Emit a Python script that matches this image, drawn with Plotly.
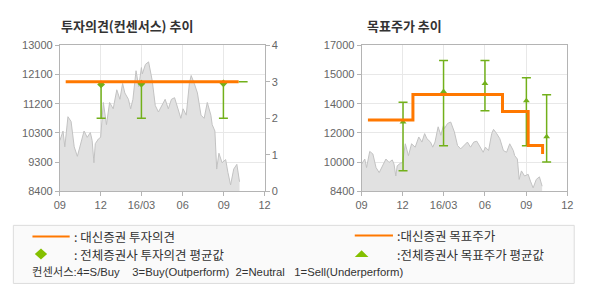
import plotly.graph_objects as go

# ---- data ----
price_dates = ["2015-09-01","2015-09-08","2015-09-12","2015-09-19","2015-09-26","2015-10-03","2015-10-10",
    "2015-10-17","2015-10-25","2015-11-01","2015-11-08","2015-11-12","2015-11-16","2015-11-19","2015-11-26",
    "2015-12-01","2015-12-05","2015-12-07","2015-12-14","2015-12-21","2015-12-29","2016-01-06","2016-01-13",
    "2016-01-19","2016-01-24","2016-02-01","2016-02-06","2016-02-11","2016-02-18","2016-02-24","2016-03-01",
    "2016-03-03","2016-03-10","2016-03-17","2016-03-25","2016-04-01","2016-04-08","2016-04-16","2016-04-23",
    "2016-04-30","2016-05-07","2016-05-14","2016-05-22","2016-05-28","2016-06-02","2016-06-09","2016-06-16",
    "2016-06-20","2016-06-27","2016-07-04","2016-07-12","2016-07-19","2016-07-26","2016-08-03","2016-08-06",
    "2016-08-12","2016-08-16","2016-08-21","2016-08-28","2016-09-05","2016-09-10","2016-09-16","2016-09-23",
    "2016-09-30","2016-10-06"]
price_values = [10000,10300,9800,10750,10600,9800,9500,
    9900,10300,10100,10250,10000,9300,9900,10050,
    10100,10900,11200,10500,11200,11000,11600,11300,
    11800,11500,11300,11000,11300,12200,11700,12300,
    12100,12400,12480,11900,11100,10900,11100,11300,
    11000,11300,11350,11000,10700,11000,10800,11800,
    12050,11800,11500,10800,10700,11200,10800,10500,
    10300,9100,9600,9300,9400,9000,8600,9100,
    9250,8700]

# 투자의견 (Daishin) and consensus
opinion_dates = ["2015-09-14", "2016-10-04"]
opinion_values = [3, 3]
cons_op_dates = ["2015-12-02", "2016-03-01", "2016-08-31"]
cons_op_mean = [2.93, 2.95, 2.96]
cons_op_max = [3, 3, 3]
cons_op_min = [2, 2, 2]
cons_op_last_date = ["2016-10-14"]
cons_op_last_val = [3]

# 목표주가 (Daishin) and consensus
target_dates = ["2015-09-15", "2015-12-24", "2016-07-10", "2016-09-05", "2016-10-07"]
target_values = [12600, 14100, 13100, 11100, 10600]
cons_tp_dates = ["2015-12-02", "2016-03-01", "2016-06-01", "2016-09-01", "2016-10-16"]
cons_tp_mean = [12480, 14280, 14750, 13730, 11610]
cons_tp_max = [13650, 16110, 16110, 15090, 14090]
cons_tp_min = [9610, 11080, 13140, 11080, 10120]

x_tickvals = ["2015-09-01", "2015-12-01", "2016-03-01", "2016-06-01", "2016-09-01", "2016-12-01"]
x_ticktext = ["09", "12", "16/03", "06", "09", "12"]
y1_tickvals = [8400, 9320, 10240, 11160, 12080, 13000]
y1_ticktext = ["8400", "9300", "10300", "11200", "12100", "13000"]
y2_tickvals = [0, 1, 2, 3, 4]
y3_tickvals = [8400, 10120, 11840, 13560, 15280, 17000]
y3_ticktext = ["8400", "10000", "12000", "14000", "15000", "17000"]

ORANGE = "#ff7800"
GREEN = "#72b01a"
W, H = 590, 300

def px(x): return x / W
def py(y): return 1 - y / H

fig = go.Figure()

area = dict(mode="lines", line=dict(color="#c2c2c2", width=1), fill="tozeroy",
            fillcolor="#e1e1e1", hoverinfo="skip", showlegend=False)
fig.add_trace(go.Scatter(x=price_dates, y=price_values, xaxis="x", yaxis="y", **area))
fig.add_trace(go.Scatter(x=price_dates, y=price_values, xaxis="x2", yaxis="y3", **area))

# left: consensus opinion bars
fig.add_trace(go.Scatter(
    x=cons_op_dates, y=cons_op_mean, xaxis="x", yaxis="y2", mode="markers",
    marker=dict(symbol="diamond", size=6, color=GREEN),
    error_y=dict(type="data", symmetric=False,
                 array=[a - m for a, m in zip(cons_op_max, cons_op_mean)],
                 arrayminus=[m - b for m, b in zip(cons_op_mean, cons_op_min)],
                 color=GREEN, thickness=1.5, width=4.5),
    showlegend=False))
fig.add_trace(go.Scatter(
    x=cons_op_last_date, y=cons_op_last_val, xaxis="x", yaxis="y2", mode="markers",
    marker=dict(size=1, color="rgba(0,0,0,0)"),
    error_y=dict(type="data", array=[0], color=GREEN, thickness=1.5, width=4.5),
    showlegend=False))
fig.add_trace(go.Scatter(x=opinion_dates, y=opinion_values, xaxis="x", yaxis="y2", mode="lines",
                         line=dict(color=ORANGE, width=3), showlegend=False))

# right: consensus target bars then Daishin target
fig.add_trace(go.Scatter(
    x=cons_tp_dates, y=cons_tp_mean, xaxis="x2", yaxis="y3", mode="markers",
    marker=dict(symbol="triangle-up", size=6, color=GREEN),
    error_y=dict(type="data", symmetric=False,
                 array=[a - m for a, m in zip(cons_tp_max, cons_tp_mean)],
                 arrayminus=[m - b for m, b in zip(cons_tp_mean, cons_tp_min)],
                 color=GREEN, thickness=1.5, width=4.5),
    showlegend=False))
fig.add_trace(go.Scatter(x=target_dates, y=target_values, xaxis="x2", yaxis="y3", mode="lines",
                         line=dict(color=ORANGE, width=3, shape="hv"), showlegend=False))

tickfont = dict(family="Liberation Sans, Arial, sans-serif", size=11, color="#666666")
xcommon = dict(type="date", range=["2015-09-01", "2016-12-01"], tickvals=x_tickvals, ticktext=x_ticktext,
               showgrid=True, gridcolor="#e8e8e8", showline=True, linecolor="#b4b4b4", linewidth=1,
               mirror=True, ticks="outside", ticklen=4, tickcolor="#b4b4b4", tickfont=tickfont, zeroline=False)
ycommon = dict(showgrid=True, gridcolor="#e8e8e8", showline=True, linecolor="#b4b4b4", linewidth=1,
               mirror=True, ticks="outside", ticklen=4, tickcolor="#b4b4b4", tickfont=tickfont, zeroline=False)

ydom = [py(193), py(41)]
fig.update_layout(
    width=W, height=H, margin=dict(l=0, r=0, t=0, b=0),
    paper_bgcolor="white", plot_bgcolor="white", showlegend=False,
    xaxis=dict(domain=[px(55), px(264)], anchor="y", **xcommon),
    yaxis=dict(domain=ydom, anchor="x", range=[8400, 13000], tickvals=y1_tickvals, ticktext=y1_ticktext, **ycommon),
    yaxis2=dict(overlaying="y", side="right", anchor="x", range=[0, 4], tickvals=y2_tickvals,
                showgrid=False, showline=False, ticks="outside", ticklen=4, tickcolor="#b4b4b4",
                tickfont=tickfont, zeroline=False),
    xaxis2=dict(domain=[px(363), px(573)], anchor="y3", **xcommon),
    yaxis3=dict(domain=ydom, anchor="x2", range=[8400, 17000], tickvals=y3_tickvals, ticktext=y3_ticktext, **ycommon),
)

titlefont = dict(family="Noto Sans CJK KR", size=13, color="#333333")
fig.add_annotation(x=px(54), y=py(20), xref="paper", yref="paper", xanchor="left", yanchor="middle",
                   text="<b>투자의견(컨센서스) 추이</b>", showarrow=False, font=titlefont)
fig.add_annotation(x=px(366), y=py(20), xref="paper", yref="paper", xanchor="left", yanchor="middle",
                   text="<b>목표주가 추이</b>", showarrow=False, font=titlefont)

# legend box
fig.add_shape(type="rect", xref="paper", yref="paper", x0=px(7.5), x1=px(580), y0=py(289), y1=py(228.5),
              line=dict(color="#dcdcdc", width=1), fillcolor="#fafafa", layer="below")
fig.add_shape(type="line", xref="paper", yref="paper", x0=px(27), x1=px(65), y0=py(240), y1=py(240),
              line=dict(color=ORANGE, width=2))
fig.add_shape(type="line", xref="paper", yref="paper", x0=px(356), x1=px(395), y0=py(239), y1=py(239),
              line=dict(color=ORANGE, width=2))
fig.add_shape(type="path", xref="paper", yref="paper",
              path=f"M {px(35.7)},{py(252.5)} L {px(42)},{py(258.3)} L {px(35.7)},{py(264)} L {px(29.4)},{py(258.3)} Z",
              fillcolor="#84c000", line=dict(width=0))
fig.add_shape(type="path", xref="paper", yref="paper",
              path=f"M {px(363)},{py(254.5)} L {px(370)},{py(261.5)} L {px(356)},{py(261.5)} Z",
              fillcolor="#84c000", line=dict(width=0))

legfont = dict(family="Noto Sans CJK KR", size=12.5, color="#333333")
for (x, y, t) in [(67, 240, ": 대신증권 투자의견"), (67, 258.5, ": 전체증권사 투자의견 평균값"),
                  (397, 239, ":대신증권 목표주가"), (397, 258.5, ":전체증권사 목표주가 평균값")]:
    fig.add_annotation(x=px(x), y=py(y), xref="paper", yref="paper", xanchor="left", yanchor="middle",
                       text=t, showarrow=False, font=legfont)
fig.add_annotation(x=px(24), y=py(277), xref="paper", yref="paper", xanchor="left", yanchor="middle",
                   text="컨센서스:4=S/Buy&nbsp;&nbsp;&nbsp;&nbsp;3=Buy(Outperform)&nbsp;&nbsp;2=Neutral&nbsp;&nbsp;&nbsp;1=Sell(Underperform)",
                   showarrow=False,
                   font=dict(family="Liberation Sans, Noto Sans CJK KR", size=11.3, color="#333333"))

fig.write_html("out.html")
